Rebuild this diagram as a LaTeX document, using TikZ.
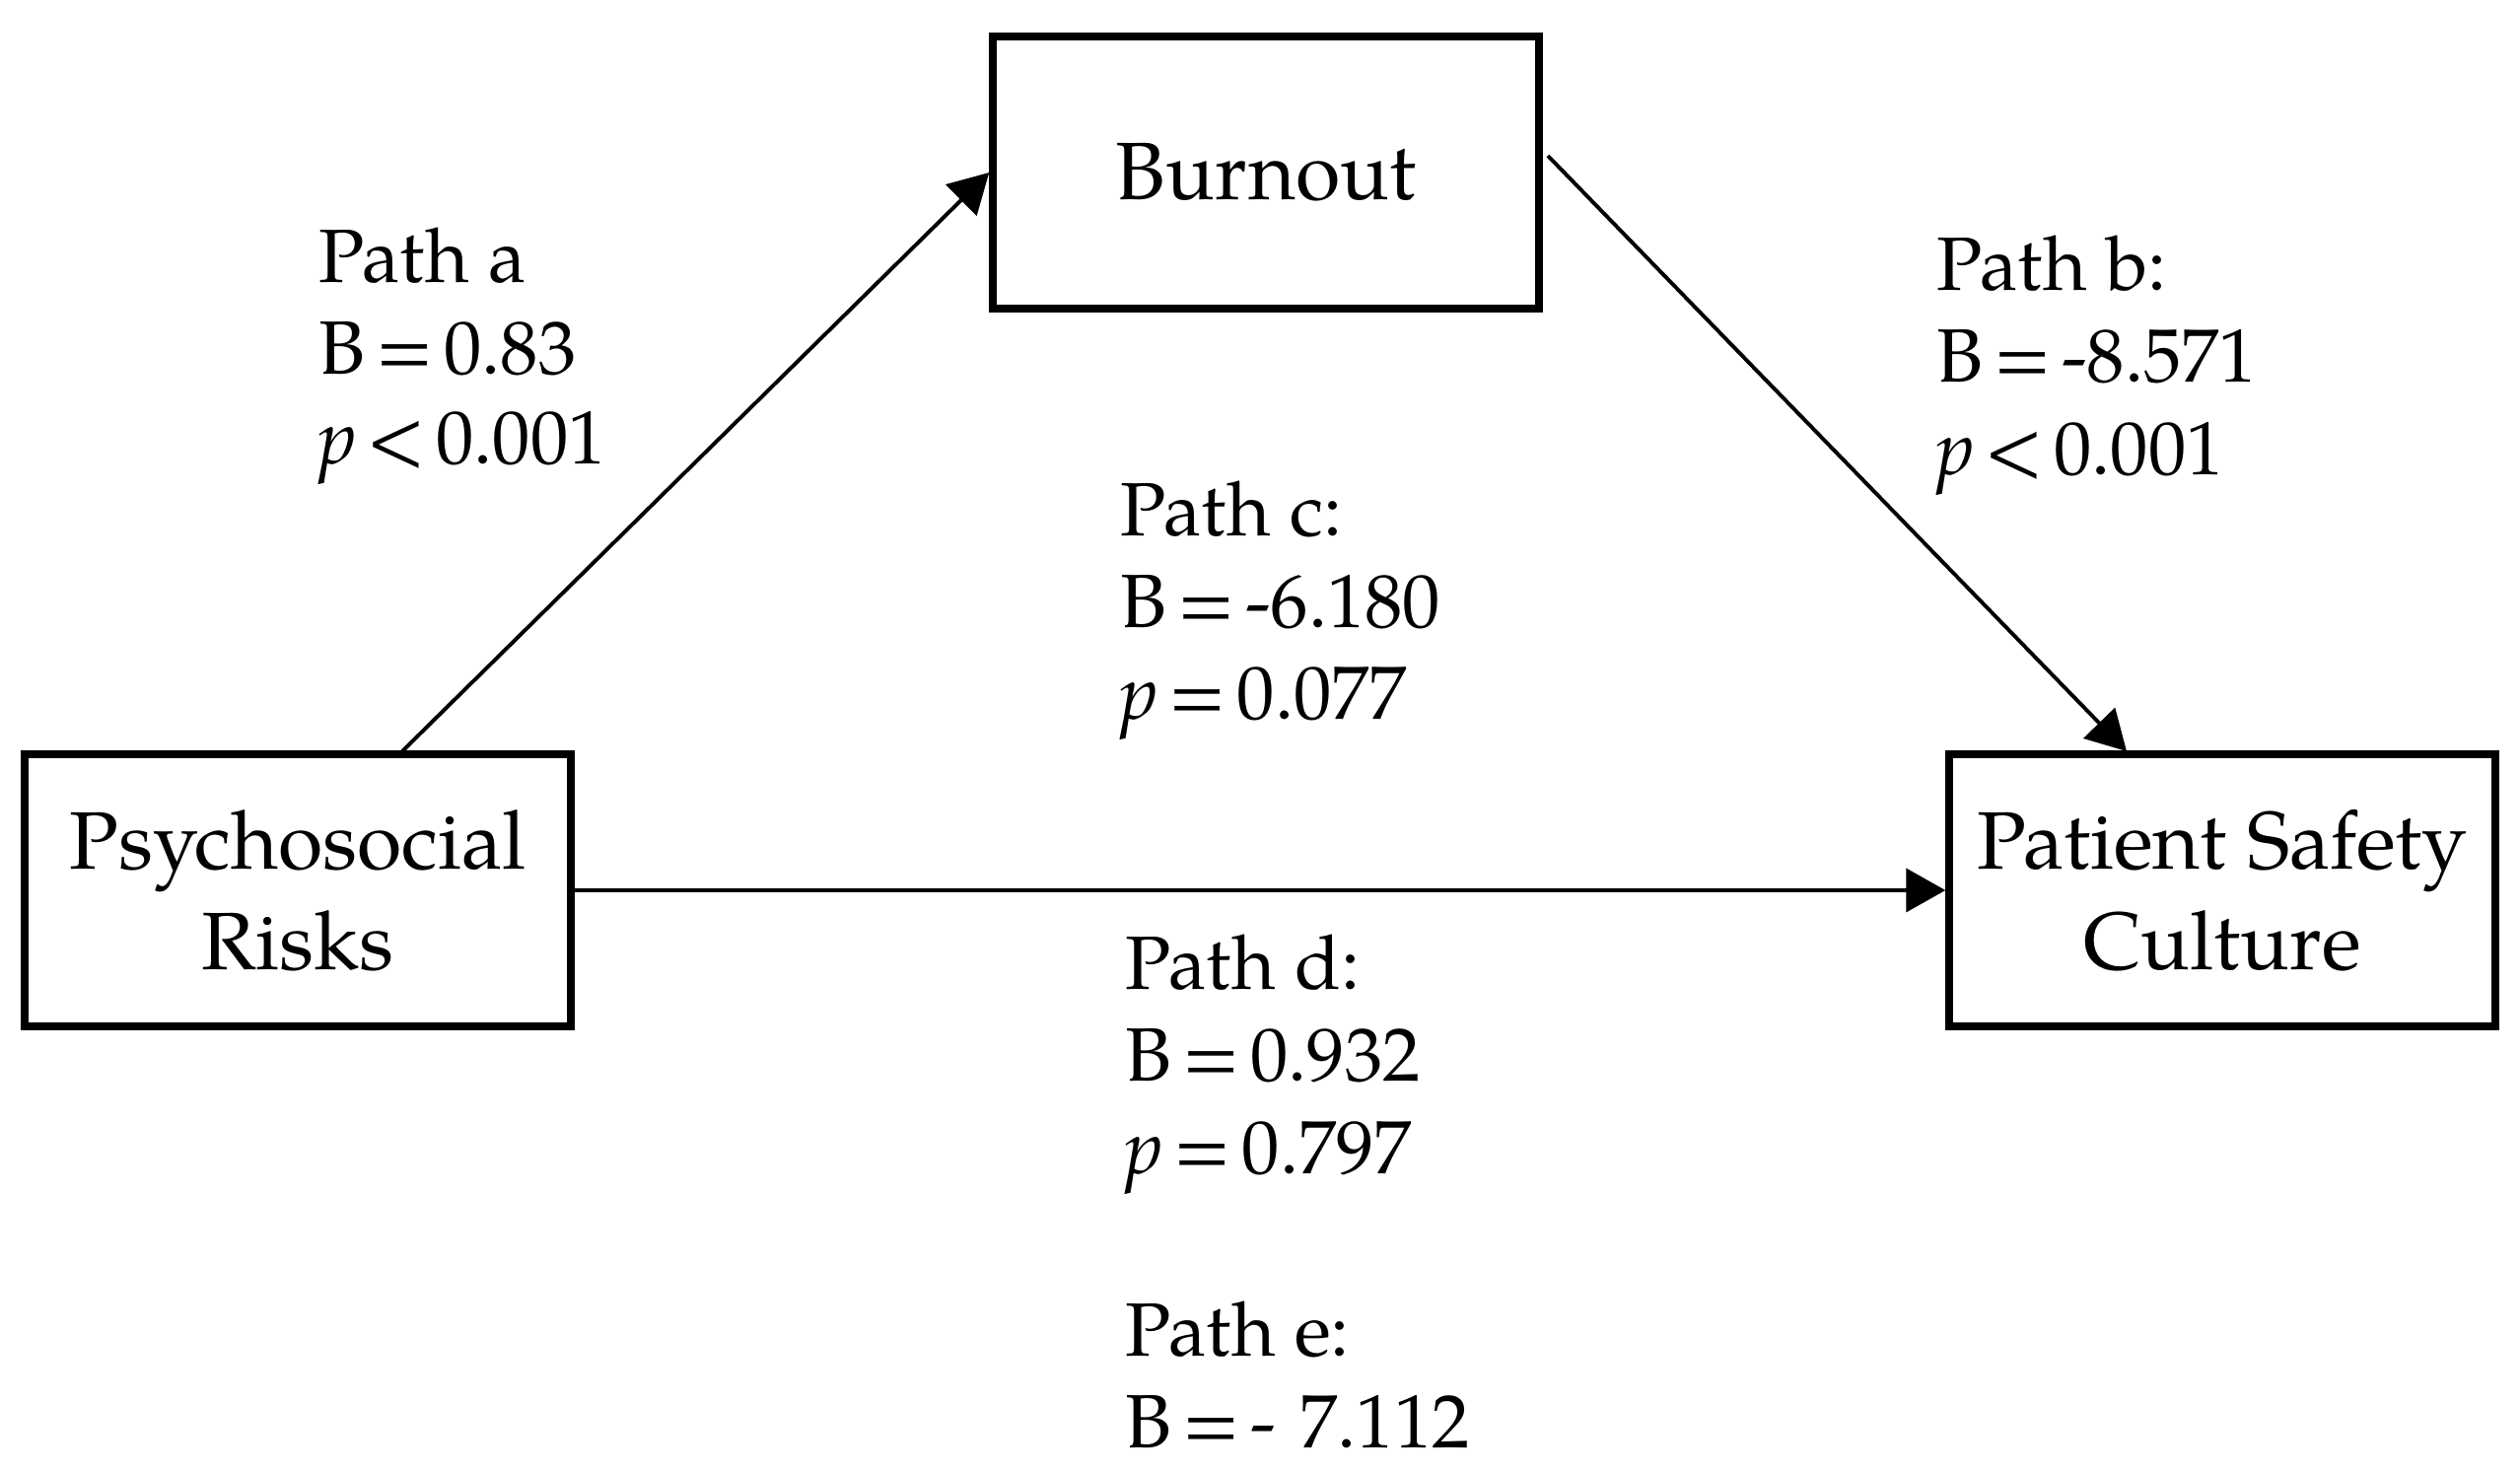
\documentclass[tikz,border=0pt]{standalone}
\usepackage{fontspec}
\setmainfont{TeX Gyre Pagella}
\usetikzlibrary{arrows.meta}
\newcommand\tightsp{\spaceskip 0.14em\relax}
\begin{document}
\begin{tikzpicture}[x=0.01cm,y=-0.01cm,
  box/.style={draw,line width=2.3pt,minimum width=5.53cm,minimum height=2.76cm,align=center,inner sep=0pt,font=\fontsize{23.5}{29}\selectfont},
  lbl/.style={anchor=base west,inner sep=0pt,font=\fontsize{21.8}{26.5}\selectfont},
  lblv/.style={lbl,font=\fontsize{21.8}{26.5}\selectfont\tightsp},
  conn/.style={line width=1.1pt,-{Triangle[length=0.40cm,width=0.44cm]}}]
\useasboundingbox (0,0) rectangle (2556,1492);
\node[box] (burn) at (1284,175) {Burnout};
\node[box] (psy) at (302,903) {Psychosocial\\Risks};
\node[box] (psc) at (2254,903) {Patient Safety\\Culture};
\coordinate (aS) at (408,762);
\coordinate (bS) at (1570,158);
\coordinate (bE) at (2157,762);
\draw[conn] (aS) -- (burn.west);
\draw[conn] (bS) -- (bE);
\draw[conn] (psy.east) -- (psc.west);
% Path a
\node[lbl] (a1) at (323,287) {Path a};
\node[lblv] (a2) at (323,380) {B = 0.83};
\node[lblv] (a3) at (323,471) {\textit{p} < 0.001};
% Path b
\node[lbl] (b1) at (1964,295) {Path b:};
\node[lblv] (b2) at (1964,388) {B = -8.571};
\node[lblv] (b3) at (1964,482) {\textit{p} < 0.001};
% Path c
\node[lbl] (c1) at (1136,544) {Path c:};
\node[lblv] (c2) at (1136,637) {B = -6.180};
\node[lblv] (c3) at (1136,730) {\textit{p} = 0.077};
% Path d
\node[lbl] (d1) at (1141,1004) {Path d:};
\node[lblv] (d2) at (1141,1097) {B = 0.932};
\node[lblv] (d3) at (1141,1191) {\textit{p} = 0.797};
% Path e
\node[lbl] (e1) at (1141,1376) {Path e:};
\node[lblv] (e2) at (1141,1469) {B = -\kern0.32em 7.112};
\end{tikzpicture}
\end{document}
